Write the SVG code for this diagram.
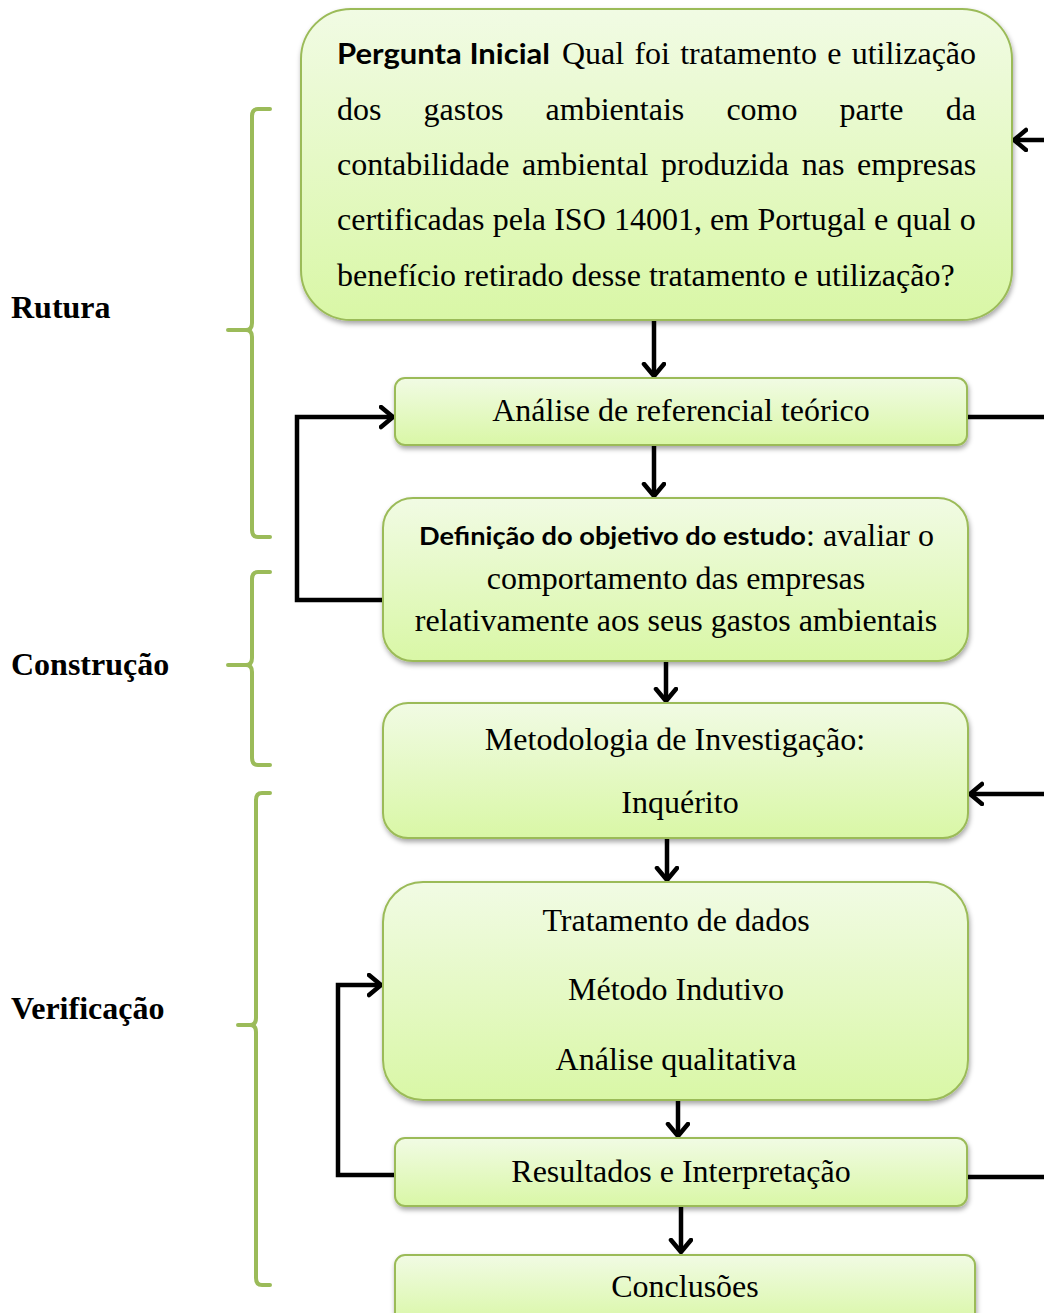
<svg xmlns="http://www.w3.org/2000/svg" width="1044" height="1313" viewBox="0 0 1044 1313">
<defs>
<linearGradient id="g" x1="0" y1="0" x2="0" y2="1">
<stop offset="0" stop-color="#f1fbe4"/>
<stop offset="1" stop-color="#d9f7a6"/>
</linearGradient>
<filter id="sh" x="-5%" y="-5%" width="110%" height="120%">
<feDropShadow dx="1" dy="3" stdDeviation="2.5" flood-color="#000" flood-opacity="0.35"/>
</filter>
<marker id="ah" markerUnits="userSpaceOnUse" markerWidth="18" markerHeight="26" refX="14" refY="12" orient="auto" viewBox="0 0 18 26">
<path d="M2,2 L14,12 L2,22" fill="none" stroke="#000" stroke-width="4.5" stroke-linecap="round" stroke-linejoin="round"/>
</marker>
<style>
.box{fill:url(#g);stroke:#9bbb59;stroke-width:2;filter:url(#sh)}
.t{font-family:"Liberation Serif","Times New Roman",serif;font-size:32px;fill:#000}
.tc{font-family:"Liberation Serif","Times New Roman",serif;font-size:32px;fill:#000;text-anchor:middle}
.b{font-family:Lato,"Open Sans","Liberation Sans",sans-serif;font-weight:bold;fill:#000}
.lab{font-family:"Liberation Serif","Times New Roman",serif;font-size:32px;font-weight:bold;fill:#000}
.br{fill:none;stroke:#9bbb59;stroke-width:4;stroke-linecap:round;stroke-linejoin:round}
.c{fill:none;stroke:#000;stroke-width:4.5}
</style>
</defs>
<rect width="1044" height="1313" fill="#fff"/>

<g id="braces">
<path class="br" d="M270,109 L258,109 Q252,109 252,116 L252,323 Q252,330 246,330 L228,330 M246,330 Q252,330 252,337 L252,530 Q252,537 258,537 L270,537"/>
<path class="br" d="M270,572 L258,572 Q252,572 252,579 L252,658 Q252,665 246,665 L228,665 M246,665 Q252,665 252,672 L252,758 Q252,765 258,765 L270,765"/>
<path class="br" d="M270,793 L262,793 Q256,793 256,800 L256,1018 Q256,1025 250,1025 L238,1025 M250,1025 Q256,1025 256,1032 L256,1278 Q256,1285 262,1285 L270,1285"/>
</g>

<g id="labels">
<text class="lab" x="11" y="318">Rutura</text>
<text class="lab" x="11" y="675">Construção</text>
<text class="lab" x="11" y="1019">Verificação</text>
</g>

<g id="connectors">
<path class="c" d="M654,320 L654,376" marker-end="url(#ah)"/>
<path class="c" d="M654,445 L654,496" marker-end="url(#ah)"/>
<path class="c" d="M666,661 L666,701" marker-end="url(#ah)"/>
<path class="c" d="M667,838 L667,880" marker-end="url(#ah)"/>
<path class="c" d="M678,1100 L678,1136" marker-end="url(#ah)"/>
<path class="c" d="M681,1206 L681,1252" marker-end="url(#ah)"/>
<path class="c" d="M383,600 L297,600 L297,417 L393,417" marker-end="url(#ah)"/>
<path class="c" d="M395,1175 L338,1175 L338,985 L381,985" marker-end="url(#ah)"/>
<path class="c" d="M967,417 L1047,417 L1047,140 L1014,140" marker-end="url(#ah)"/>
<path class="c" d="M967,1177 L1047,1177 L1047,794 L970,794" marker-end="url(#ah)"/>
</g>

<g id="n1">
<rect class="box" x="301" y="9" width="711" height="311" rx="50"/>
<text class="b" x="337" y="64" font-size="28" textLength="213" lengthAdjust="spacingAndGlyphs">Pergunta  Inicial</text>
<text class="t" y="64"><tspan x="562">Qual</tspan><tspan x="634.4">foi</tspan><tspan x="680.2">tratamento</tspan><tspan x="827.3">e</tspan><tspan x="851.7">utilização</tspan></text>
<text class="t" y="120"><tspan x="337">dos</tspan><tspan x="423.5">gastos</tspan><tspan x="545.6">ambientais</tspan><tspan x="726.4">como</tspan><tspan x="839.6">parte</tspan><tspan x="945.7">da</tspan></text>
<text class="t" y="175"><tspan x="337">contabilidade</tspan><tspan x="522.1">ambiental</tspan><tspan x="661">produzida</tspan><tspan x="801.7">nas</tspan><tspan x="857.1">empresas</tspan></text>
<text class="t" y="230"><tspan x="337">certificadas</tspan><tspan x="492.7">pela</tspan><tspan x="554.2">ISO</tspan><tspan x="613.9">14001,</tspan><tspan x="710.1">em</tspan><tspan x="757.4">Portugal</tspan><tspan x="874">e</tspan><tspan x="896.4">qual</tspan><tspan x="959.7">o</tspan></text>
<text class="t" y="286"><tspan x="337">benefício</tspan><tspan x="464.1">retirado</tspan><tspan x="571.6">desse</tspan><tspan x="648.9">tratamento</tspan><tspan x="793.8">e</tspan><tspan x="816">utilização?</tspan></text>
</g>

<g id="n2">
<rect class="box" x="395" y="378" width="572" height="67" rx="10"/>
<text class="tc" x="681" y="421">Análise de referencial teórico</text>
</g>

<g id="n3">
<rect class="box" x="383" y="498" width="585" height="163" rx="30"/>
<text class="b" x="419" y="545" font-size="25" textLength="387" lengthAdjust="spacingAndGlyphs">Definição do objetivo do estudo</text>
<text class="t" x="806" y="546">: avaliar o</text>
<text class="tc" x="676" y="589">comportamento das empresas</text>
<text class="tc" x="676" y="631">relativamente aos seus gastos ambientais</text>
</g>

<g id="n4">
<rect class="box" x="383" y="703" width="585" height="135" rx="25"/>
<text class="tc" x="675" y="750">Metodologia de Investigação:</text>
<text class="tc" x="680" y="813">Inquérito</text>
</g>

<g id="n5">
<rect class="box" x="383" y="882" width="585" height="218" rx="40"/>
<text class="tc" x="676" y="931">Tratamento de dados</text>
<text class="tc" x="676" y="1000">Método Indutivo</text>
<text class="tc" x="676" y="1070">Análise qualitativa</text>
</g>

<g id="n6">
<rect class="box" x="395" y="1138" width="572" height="68" rx="10"/>
<text class="tc" x="681" y="1182">Resultados e Interpretação</text>
</g>

<g id="n7">
<rect class="box" x="395" y="1255" width="580" height="70" rx="10"/>
<text class="tc" x="685" y="1297">Conclusões</text>
</g>
</svg>
